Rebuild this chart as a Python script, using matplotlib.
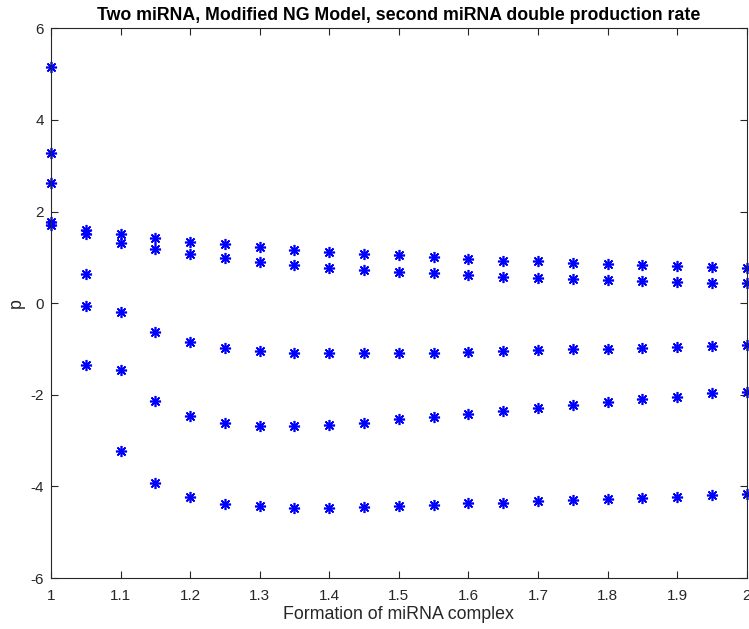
import numpy as np
import matplotlib
matplotlib.use("Agg")
import matplotlib.pyplot as plt

plt.rcParams['font.family'] = ['Liberation Sans', 'DejaVu Sans']
plt.rcParams['axes.unicode_minus'] = False

# formation rate values (x axis)
formation = [1.0, 1.05, 1.1, 1.15, 1.2, 1.25, 1.3, 1.35, 1.4, 1.45, 1.5,
             1.55, 1.6, 1.65, 1.7, 1.75, 1.8, 1.85, 1.9, 1.95, 2.0]

# five roots of p
p_root1 = [5.16, 1.59, 1.51, 1.43, 1.34, 1.29, 1.23, 1.17, 1.12, 1.08, 1.05,
           1.00, 0.96, 0.92, 0.91, 0.88, 0.86, 0.83, 0.81, 0.79, 0.76]
p_root2 = [3.28, 1.52, 1.32, 1.19, 1.07, 0.98, 0.90, 0.84, 0.77, 0.73, 0.68,
           0.65, 0.62, 0.57, 0.56, 0.52, 0.50, 0.49, 0.47, 0.45, 0.44]
p_root3 = [2.63, 0.63, -0.20, -0.63, -0.84, -0.97, -1.04, -1.08, -1.08, -1.08, -1.08,
           -1.08, -1.07, -1.05, -1.03, -1.01, -1.00, -0.98, -0.96, -0.94, -0.92]
p_root4 = [1.78, -0.07, -1.46, -2.13, -2.47, -2.61, -2.69, -2.69, -2.65, -2.61, -2.53,
           -2.48, -2.42, -2.35, -2.28, -2.22, -2.15, -2.10, -2.05, -1.97, -1.93]
p_root5 = [1.70, -1.35, -3.23, -3.92, -4.23, -4.39, -4.43, -4.47, -4.47, -4.45, -4.43,
           -4.41, -4.37, -4.36, -4.32, -4.30, -4.27, -4.25, -4.22, -4.19, -4.16]

xticks = [1, 1.1, 1.2, 1.3, 1.4, 1.5, 1.6, 1.7, 1.8, 1.9, 2]
xticklabels = ["1", "1.1", "1.2", "1.3", "1.4", "1.5", "1.6", "1.7", "1.8", "1.9", "2"]
yticks = [-6, -4, -2, 0, 2, 4, 6]

fig = plt.figure(figsize=(7.49, 6.29), dpi=100)
ax = fig.add_axes([0.068, 0.081, 0.929, 0.874])

for roots in [p_root1, p_root2, p_root3, p_root4, p_root5]:
    ax.plot(formation, roots, linestyle="none", marker=(8, 2, 0),
            markersize=8, markeredgewidth=1.2, color="#0000ff", clip_on=False)

ax.set_xlim(1, 2)
ax.set_ylim(-6, 6)
ax.set_xticks(xticks)
ax.set_xticklabels(xticklabels)
ax.set_yticks(yticks)

grey = "#262626"
for s in ax.spines.values():
    s.set_color(grey)
    s.set_linewidth(0.8)
ax.tick_params(direction="in", top=True, right=True, length=5, width=0.8,
               colors=grey, labelsize=11)
ax.tick_params(axis="x", pad=8)
ax.tick_params(axis="y", pad=5)

ax.set_xlabel("Formation of miRNA complex", fontsize=12.8, color=grey, labelpad=2)
ax.set_ylabel("p", fontsize=12.8, color=grey)
ax.set_title("Two miRNA, Modified NG Model, second miRNA double production rate",
             fontsize=12.8, fontweight="bold", color="black")

fig.savefig("out.png", dpi=100)
